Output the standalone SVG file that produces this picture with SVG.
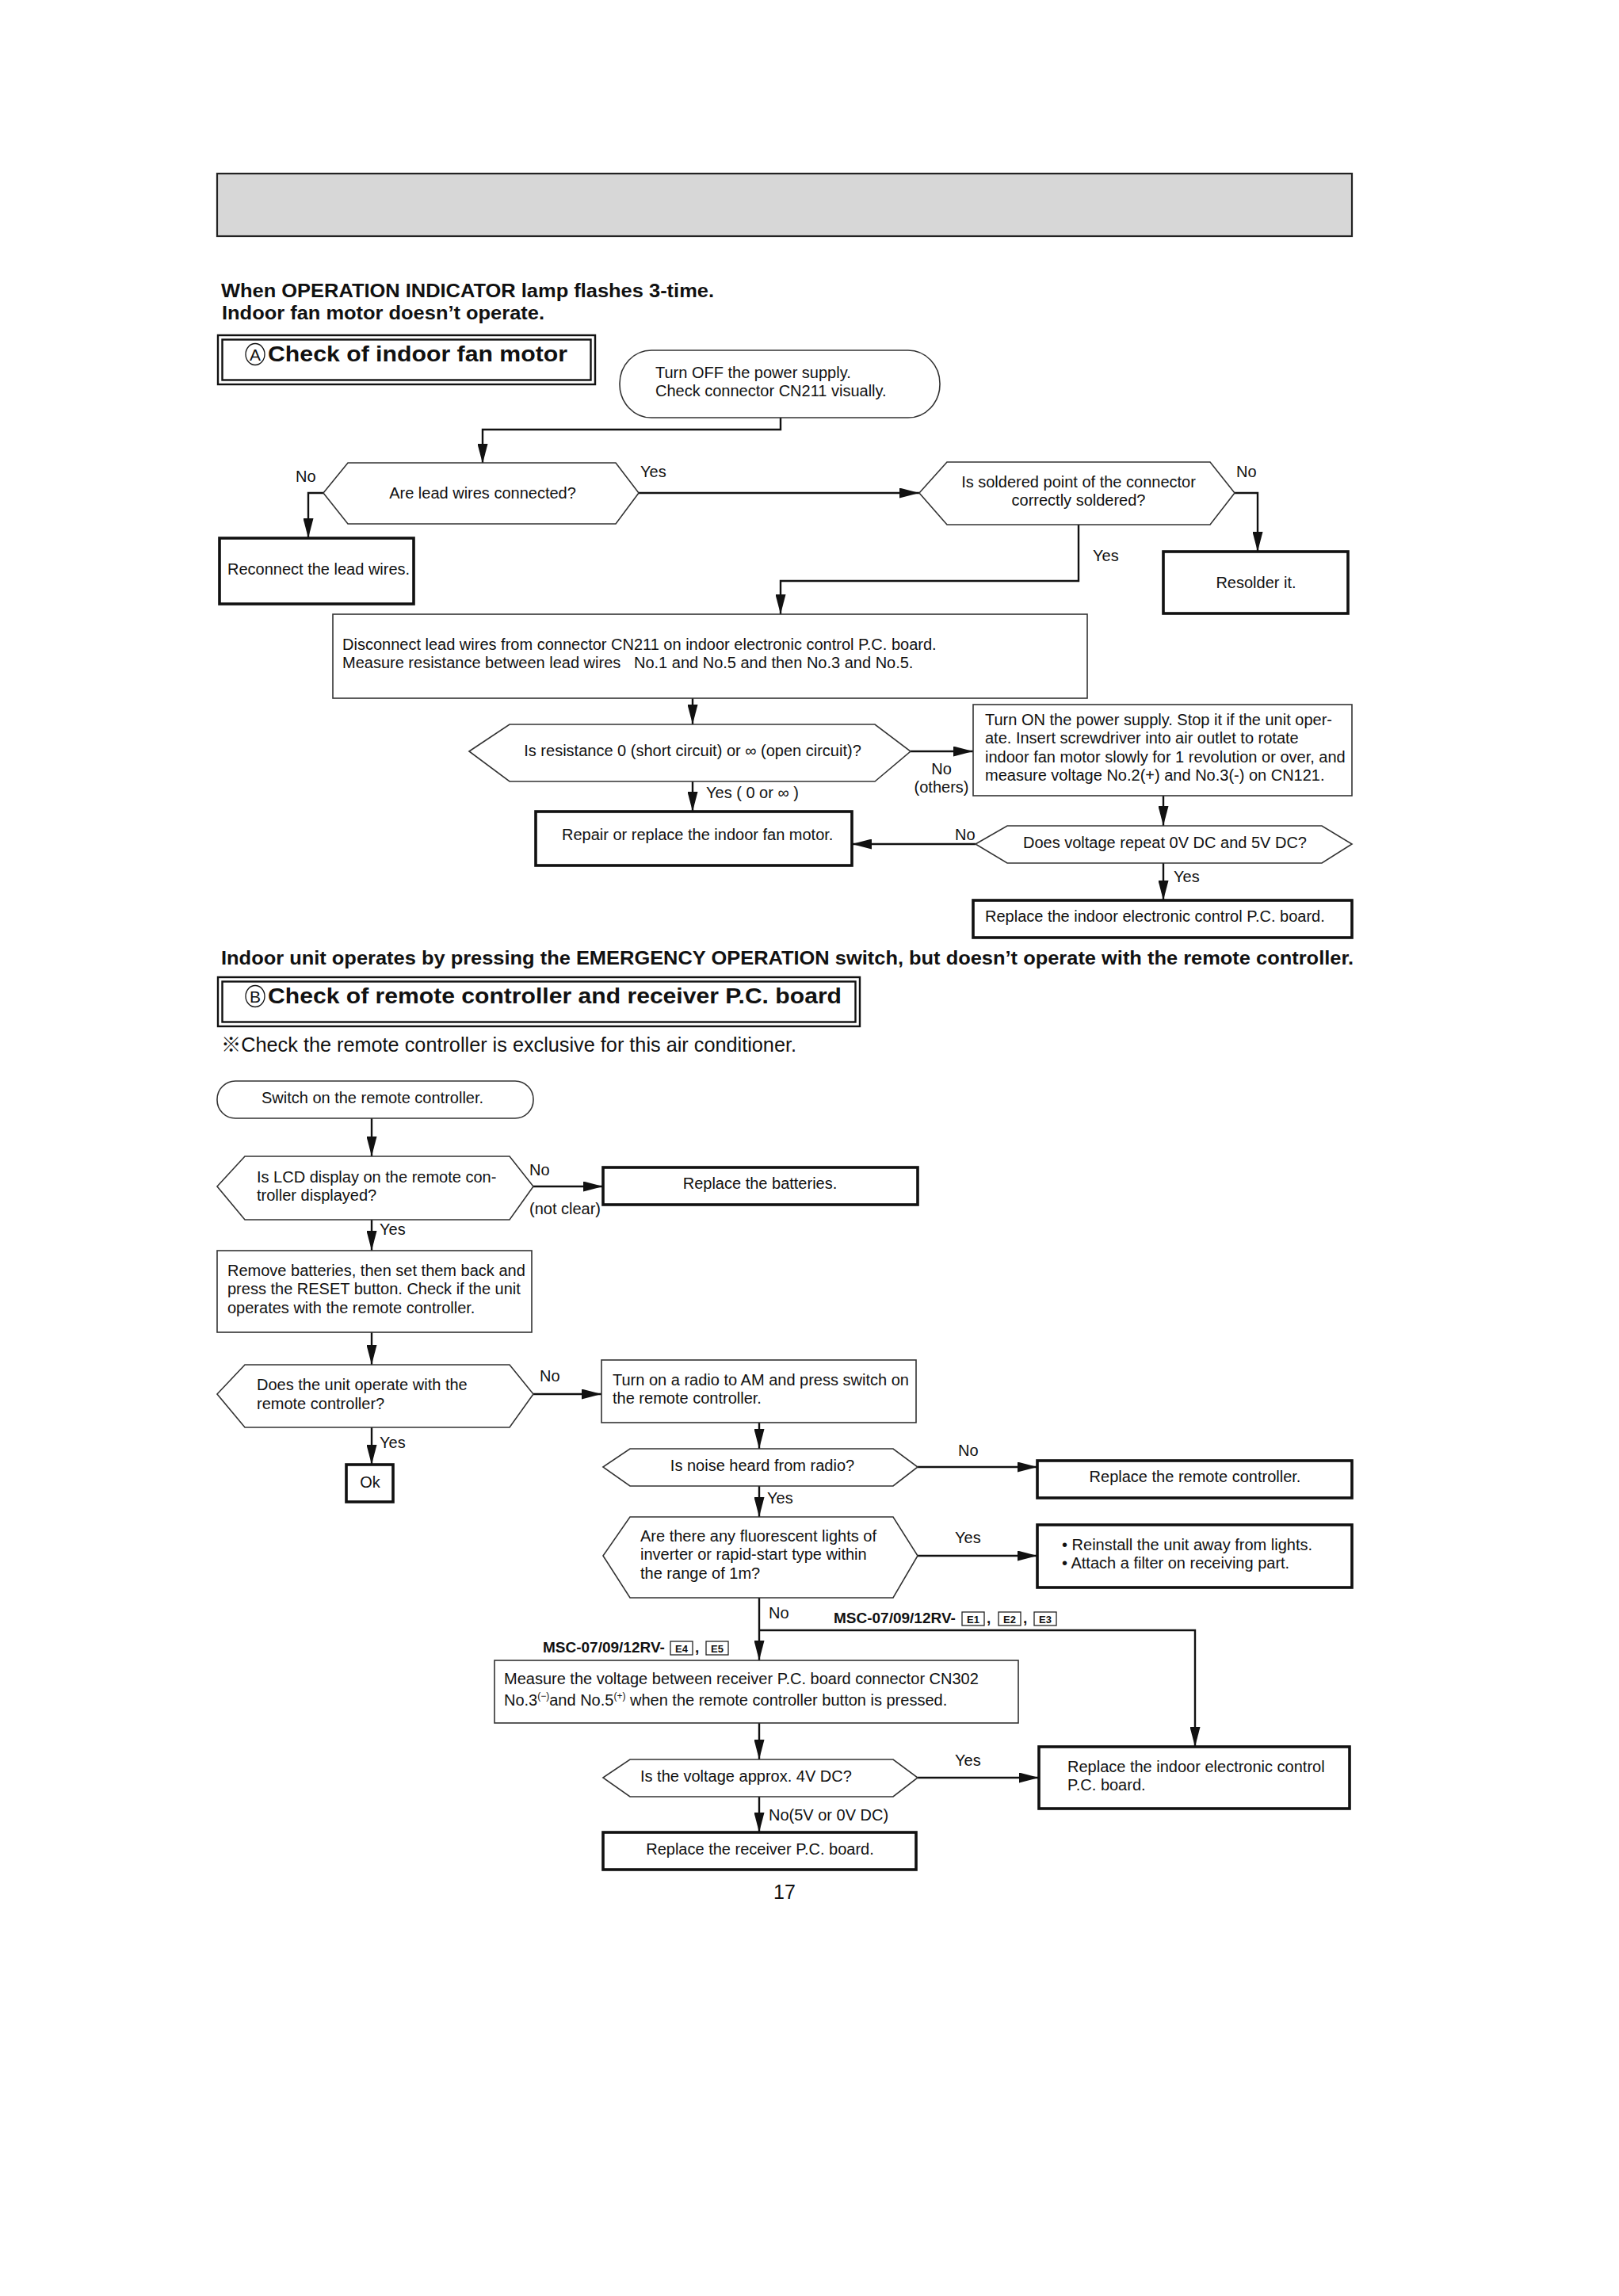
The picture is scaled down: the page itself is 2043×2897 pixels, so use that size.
<svg xmlns="http://www.w3.org/2000/svg" width="2043" height="2897" viewBox="0 0 2043 2897">
<style>
text{font-family:"Liberation Sans",Arial,Helvetica,"Noto Sans CJK JP",sans-serif;fill:#111}
.t{font-size:20px}
.m{text-anchor:middle}
.hd{font-size:23px;font-weight:bold}
.ttl{font-size:27px;font-weight:bold}
.thin{fill:#fff;stroke:#333;stroke-width:1.6}
.thick{fill:#fff;stroke:#111;stroke-width:3.6}
.hex{fill:#fff;stroke:#333;stroke-width:1.6}
.dbl{fill:none;stroke:#111;stroke-width:2.4}
.circ{fill:none;stroke:#111;stroke-width:1.3}
.ebox{fill:#fff;stroke:#222;stroke-width:1.3}
.et{font-size:13px;font-weight:bold;text-anchor:middle}
.msc{font-size:19px;font-weight:bold}
.cn path{fill:none;stroke:#111;stroke-width:2.4;marker-end:url(#ah)}
</style>
<defs>
<marker id="ah" markerUnits="userSpaceOnUse" viewBox="0 0 25 13" markerWidth="25" markerHeight="13" refX="25" refY="6.5" orient="auto">
<path d="M0,0 L25,6.5 L0,13 Z" fill="#111"/>
</marker>
</defs>
<rect width="2043" height="2897" fill="#fff"/>

<g id="header"><rect x="274" y="219" width="1432" height="79" fill="#d7d7d7" stroke="#222" stroke-width="2.2"/></g>

<g id="headings">
<text class="hd" x="279" y="375" textLength="622" lengthAdjust="spacingAndGlyphs">When OPERATION INDICATOR lamp flashes 3-time.</text>
<text class="hd" x="280" y="403" textLength="407" lengthAdjust="spacingAndGlyphs">Indoor fan motor doesn’t operate.</text>
<text class="hd" x="279" y="1217" textLength="1429" lengthAdjust="spacingAndGlyphs">Indoor unit operates by pressing the EMERGENCY OPERATION switch, but doesn’t operate with the remote controller.</text>
<text x="279" y="1327" style="font-size:25px" textLength="726" lengthAdjust="spacingAndGlyphs">※Check the remote controller is exclusive for this air conditioner.</text>
<text class="m" x="990" y="2396" style="font-size:25px">17</text>
</g>

<g id="titleA">
<rect class="dbl" x="275" y="423" width="476" height="62"/>
<rect class="dbl" x="280.5" y="428.5" width="465" height="51"/>
<ellipse class="circ" cx="322" cy="447" rx="12" ry="13.5"/>
<text class="m" x="322" y="455" style="font-size:21px">A</text>
<text class="ttl" x="338" y="456" textLength="378" lengthAdjust="spacingAndGlyphs">Check of indoor fan motor</text>
</g>

<g id="titleB">
<rect class="dbl" x="275" y="1233" width="810" height="62"/>
<rect class="dbl" x="280.5" y="1238.5" width="799" height="51"/>
<ellipse class="circ" cx="322" cy="1257" rx="12" ry="13.5"/>
<text class="m" x="322" y="1265" style="font-size:21px">B</text>
<text class="ttl" x="338" y="1266" textLength="724" lengthAdjust="spacingAndGlyphs">Check of remote controller and receiver P.C. board</text>
</g>

<g id="connectors" class="cn">
<path d="M985 527 V542 H609 V585"/>
<path d="M408 622 H389 V679"/>
<path d="M806 622 H1160"/>
<path d="M1558 622 H1587 V696"/>
<path d="M1361 662 V733 H985 V775"/>
<path d="M874 881 V914"/>
<path d="M1149 948 H1228"/>
<path d="M874 986 V1024"/>
<path d="M1468 1004 V1042"/>
<path d="M1231 1065 H1075"/>
<path d="M1468 1089 V1136"/>
<path d="M469 1411 V1459"/>
<path d="M673 1497 H761"/>
<path d="M469 1539 V1578"/>
<path d="M469 1681 V1722"/>
<path d="M673 1759 H759"/>
<path d="M469 1801 V1848"/>
<path d="M958 1795 V1828"/>
<path d="M1158 1851 H1309"/>
<path d="M958 1875 V1914"/>
<path d="M1158 1963 H1309"/>
<path d="M958 2016 V2095"/>
<path d="M958 2057 H1508 V2204"/>
<path d="M958 2174 V2220"/>
<path d="M1158 2243 H1311"/>
<path d="M958 2267 V2312"/>
</g>

<g id="labels">
<text class="t" x="373" y="608">No</text>
<text class="t" x="808" y="602">Yes</text>
<text class="t" x="1560" y="602">No</text>
<text class="t" x="1379" y="708">Yes</text>
<text class="t m" x="1188" y="977">No</text>
<text class="t m" x="1188" y="1000">(others)</text>
<text class="t" x="891" y="1007">Yes ( 0 or ∞ )</text>
<text class="t" x="1205" y="1060">No</text>
<text class="t" x="1481" y="1113">Yes</text>
<text class="t" x="668" y="1483">No</text>
<text class="t" x="668" y="1532">(not clear)</text>
<text class="t" x="479" y="1558">Yes</text>
<text class="t" x="681" y="1743">No</text>
<text class="t" x="479" y="1827">Yes</text>
<text class="t" x="1209" y="1837">No</text>
<text class="t" x="968" y="1897">Yes</text>
<text class="t" x="1205" y="1947">Yes</text>
<text class="t" x="970" y="2042">No</text>
<text class="t" x="1205" y="2228">Yes</text>
<text class="t" x="970" y="2297">No(5V or 0V DC)</text>
<text class="msc" x="1052" y="2048">MSC-07/09/12RV-</text>
<rect class="ebox" x="1214" y="2034" width="28" height="17"/><text class="et" x="1228" y="2048">E1</text>
<text class="msc" x="1245" y="2048">,</text>
<rect class="ebox" x="1260" y="2034" width="28" height="17"/><text class="et" x="1274" y="2048">E2</text>
<text class="msc" x="1291" y="2048">,</text>
<rect class="ebox" x="1305" y="2034" width="28" height="17"/><text class="et" x="1319" y="2048">E3</text>
<text class="msc" x="685" y="2085">MSC-07/09/12RV-</text>
<rect class="ebox" x="846" y="2071" width="28" height="17"/><text class="et" x="860" y="2085">E4</text>
<text class="msc" x="877" y="2085">,</text>
<rect class="ebox" x="891" y="2071" width="28" height="17"/><text class="et" x="905" y="2085">E5</text>
</g>

<g id="n_start">
<rect class="thin" x="782" y="442" width="404" height="85" rx="40" ry="42"/>
<text class="t" x="827" y="477">Turn OFF the power supply.</text>
<text class="t" x="827" y="500">Check connector CN211 visually.</text>
</g>
<g id="n_lead">
<polygon class="hex" points="408,622 439,584 777,584 806,622 777,661 439,661"/>
<text class="t m" x="609" y="629">Are lead wires connected?</text>
</g>
<g id="n_reconnect">
<rect class="thick" x="277" y="679" width="245" height="83"/>
<text class="t" x="287" y="725">Reconnect the lead wires.</text>
</g>
<g id="n_solder">
<polygon class="hex" points="1160,622 1195,583 1527,583 1558,622 1527,662 1195,662"/>
<text class="t m" x="1361" y="615">Is soldered point of the connector</text>
<text class="t m" x="1361" y="638">correctly soldered?</text>
</g>
<g id="n_resolder">
<rect class="thick" x="1468" y="696" width="233" height="78"/>
<text class="t m" x="1585" y="742">Resolder it.</text>
</g>
<g id="n_disconnect">
<rect class="thin" x="420" y="775" width="952" height="106"/>
<text class="t" x="432" y="820">Disconnect lead wires from connector CN211 on indoor electronic control P.C. board.</text>
<text class="t" x="432" y="843" xml:space="preserve">Measure resistance between lead wires   No.1 and No.5 and then No.3 and No.5.</text>
</g>
<g id="n_resist">
<polygon class="hex" points="592,948 643,914 1104,914 1149,948 1104,986 643,986"/>
<text class="t m" x="874" y="954">Is resistance 0 (short circuit) or ∞ (open circuit)?</text>
</g>
<g id="n_turnon">
<rect class="thin" x="1228" y="889" width="478" height="115"/>
<text class="t" x="1243" y="915">Turn ON the power supply. Stop it if the unit oper-</text>
<text class="t" x="1243" y="938">ate. Insert screwdriver into air outlet to rotate</text>
<text class="t" x="1243" y="962">indoor fan motor slowly for 1 revolution or over, and</text>
<text class="t" x="1243" y="985">measure voltage No.2(+) and No.3(-) on CN121.</text>
</g>
<g id="n_repair">
<rect class="thick" x="676" y="1024" width="399" height="68"/>
<text class="t" x="709" y="1060">Repair or replace the indoor fan motor.</text>
</g>
<g id="n_repeat">
<polygon class="hex" points="1231,1065 1271,1042 1668,1042 1706,1065 1668,1089 1271,1089"/>
<text class="t m" x="1470" y="1070">Does voltage repeat 0V DC and 5V DC?</text>
</g>
<g id="n_replaceA">
<rect class="thick" x="1228" y="1136" width="478" height="47"/>
<text class="t" x="1243" y="1163">Replace the indoor electronic control P.C. board.</text>
</g>

<g id="n_switch">
<rect class="thin" x="274" y="1364" width="399" height="47" rx="23" ry="23"/>
<text class="t m" x="470" y="1392">Switch on the remote controller.</text>
</g>
<g id="n_lcd">
<polygon class="hex" points="274,1497 309,1459 643,1459 673,1497 643,1539 309,1539"/>
<text class="t" x="324" y="1492">Is LCD display on the remote con-</text>
<text class="t" x="324" y="1515">troller displayed?</text>
</g>
<g id="n_batteries">
<rect class="thick" x="761" y="1473" width="397" height="47"/>
<text class="t m" x="959" y="1500">Replace the batteries.</text>
</g>
<g id="n_remove">
<rect class="thin" x="274" y="1578" width="397" height="103"/>
<text class="t" x="287" y="1610">Remove batteries, then set them back and</text>
<text class="t" x="287" y="1633">press the RESET button. Check if the unit</text>
<text class="t" x="287" y="1657">operates with the remote controller.</text>
</g>
<g id="n_operate">
<polygon class="hex" points="274,1759 309,1722 643,1722 673,1759 643,1801 309,1801"/>
<text class="t" x="324" y="1754">Does the unit operate with the</text>
<text class="t" x="324" y="1778">remote controller?</text>
</g>
<g id="n_radio">
<rect class="thin" x="759" y="1716" width="397" height="79"/>
<text class="t" x="773" y="1748">Turn on a radio to AM and press switch on</text>
<text class="t" x="773" y="1771">the remote controller.</text>
</g>
<g id="n_ok">
<rect class="thick" x="437" y="1848" width="59" height="47"/>
<text class="t m" x="467" y="1877">Ok</text>
</g>
<g id="n_noise">
<polygon class="hex" points="761,1851 795,1828 1127,1828 1158,1851 1127,1875 795,1875"/>
<text class="t m" x="962" y="1856">Is noise heard from radio?</text>
</g>
<g id="n_remote">
<rect class="thick" x="1309" y="1843" width="397" height="47"/>
<text class="t m" x="1508" y="1870">Replace the remote controller.</text>
</g>
<g id="n_fluor">
<polygon class="hex" points="761,1963 795,1914 1127,1914 1158,1963 1127,2016 795,2016"/>
<text class="t" x="808" y="1945">Are there any fluorescent lights of</text>
<text class="t" x="808" y="1968">inverter or rapid-start type within</text>
<text class="t" x="808" y="1992">the range of 1m?</text>
</g>
<g id="n_reinstall">
<rect class="thick" x="1309" y="1924" width="397" height="79"/>
<text class="t" x="1340" y="1956">• Reinstall the unit away from lights.</text>
<text class="t" x="1340" y="1979">• Attach a filter on receiving part.</text>
</g>
<g id="n_measure">
<rect class="thin" x="624" y="2095" width="661" height="79"/>
<text class="t" x="636" y="2125">Measure the voltage between receiver P.C. board connector CN302</text>
<text class="t" x="636" y="2152">No.3<tspan style="font-size:12px" dy="-8">(−)</tspan><tspan dy="8">and No.5</tspan><tspan style="font-size:12px" dy="-8">(+)</tspan><tspan dy="8"> when the remote controller button is pressed.</tspan></text>
</g>
<g id="n_voltage">
<polygon class="hex" points="761,2243 795,2220 1127,2220 1158,2243 1127,2267 795,2267"/>
<text class="t" x="808" y="2248">Is the voltage approx. 4V DC?</text>
</g>
<g id="n_replaceB">
<rect class="thick" x="1311" y="2204" width="392" height="78"/>
<text class="t" x="1347" y="2236">Replace the indoor electronic control</text>
<text class="t" x="1347" y="2259">P.C. board.</text>
</g>
<g id="n_receiver">
<rect class="thick" x="761" y="2312" width="395" height="47"/>
<text class="t m" x="959" y="2340">Replace the receiver P.C. board.</text>
</g>
</svg>
